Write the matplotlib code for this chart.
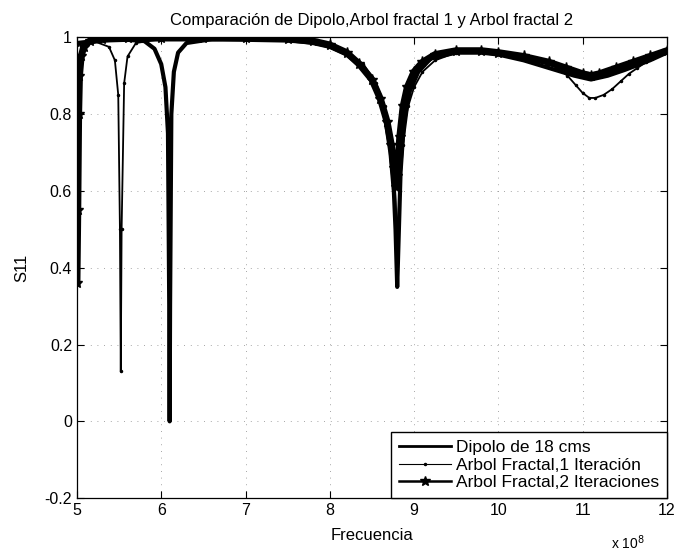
import matplotlib
matplotlib.use("Agg")
import matplotlib.pyplot as plt
from matplotlib.lines import Line2D

plt.rcParams['font.family'] = ['Liberation Sans', 'DejaVu Sans']

title = "Comparación de Dipolo,Arbol fractal 1 y Arbol fractal 2"
labels = ["Dipolo de 18 cms", "Arbol Fractal,1 Iteración", "Arbol Fractal,2 Iteraciones"]

# frequency in units of 1e8 Hz
f_dip = [5.0, 5.2, 5.5, 5.8, 5.92, 6.0, 6.05, 6.08, 6.095, 6.10, 6.105, 6.12, 6.15, 6.2, 6.3,
         6.6, 7.0, 7.5, 7.8, 8.0, 8.2, 8.4, 8.55, 8.65, 8.72, 8.76, 8.78, 8.80, 8.82, 8.84,
         8.88, 8.95, 9.05, 9.2, 9.5, 9.8, 10.0, 10.3, 10.6, 10.9, 11.1, 11.3, 11.5, 11.8, 12.0]
s_dip = [0.985, 0.99, 0.995, 0.99, 0.97, 0.93, 0.87, 0.75, 0.30, 0.0, 0.30, 0.80, 0.91, 0.96, 0.985,
         0.995, 0.997, 0.993, 0.985, 0.975, 0.955, 0.92, 0.87, 0.80, 0.70, 0.60, 0.50, 0.35, 0.50, 0.65,
         0.78, 0.86, 0.91, 0.945, 0.96, 0.96, 0.955, 0.94, 0.92, 0.90, 0.89, 0.90, 0.915, 0.94, 0.96]

f_a1 = [5.0, 5.2, 5.38, 5.45, 5.49, 5.51, 5.52, 5.53, 5.56, 5.6, 5.7, 6.0, 6.5, 7.0, 7.5, 7.8,
        8.0, 8.2, 8.4, 8.55, 8.65, 8.72, 8.77, 8.80, 8.83, 8.87, 8.93, 9.0, 9.1, 9.25, 9.5,
        9.8, 10.0, 10.3, 10.55, 10.7, 10.82, 10.92, 11.0, 11.08, 11.15, 11.25, 11.35, 11.45,
        11.55, 11.65, 11.75, 12.0]
s_a1 = [0.98, 0.99, 0.975, 0.94, 0.85, 0.50, 0.13, 0.50, 0.88, 0.95, 0.985, 0.995, 0.997, 0.996, 0.993, 0.987,
        0.978, 0.96, 0.93, 0.88, 0.82, 0.74, 0.63, 0.48, 0.60, 0.72, 0.82, 0.87, 0.91, 0.94, 0.96,
        0.965, 0.96, 0.95, 0.935, 0.92, 0.90, 0.875, 0.855, 0.842, 0.842, 0.85, 0.865, 0.885,
        0.905, 0.92, 0.935, 0.965]

f_a2 = [5.0, 5.01, 5.02, 5.03, 5.05, 5.08, 5.15, 5.3, 5.6, 6.0, 6.5, 7.0, 7.5, 7.8, 8.0, 8.2,
        8.35, 8.5, 8.6, 8.68, 8.73, 8.76, 8.78, 8.80, 8.83, 8.87, 8.92, 9.0, 9.1, 9.25, 9.5,
        9.8, 10.0, 10.3, 10.6, 10.8, 11.0, 11.1, 11.2, 11.4, 11.6, 11.8, 12.0]
s_a2 = [0.36, 0.55, 0.80, 0.90, 0.95, 0.975, 0.99, 0.995, 0.997, 0.998, 0.998, 0.997, 0.995, 0.99, 0.98, 0.96,
        0.93, 0.89, 0.84, 0.78, 0.72, 0.66, 0.61, 0.64, 0.74, 0.82, 0.87, 0.91, 0.935, 0.955, 0.965,
        0.965, 0.96, 0.95, 0.935, 0.92, 0.905, 0.90, 0.905, 0.92, 0.935, 0.95, 0.965]

xticks = [5, 6, 7, 8, 9, 10, 11, 12]
yticks = [-0.2, 0, 0.2, 0.4, 0.6, 0.8, 1]
yticklabels = ["-0.2", "0", "0.2", "0.4", "0.6", "0.8", "1"]

fig = plt.figure(figsize=(6.75, 5.56), dpi=100)
ax = fig.add_axes([0.114, 0.104, 0.874, 0.829])

ax.plot(f_a2, s_a2, color='black', lw=5, marker='*', ms=8, zorder=3)
ax.plot(f_dip, s_dip, color='black', lw=3, zorder=4)
ax.plot(f_a1, s_a1, color='black', lw=1.3, marker='.', ms=3, zorder=5)

ax.set_xlim(5, 12)
ax.set_ylim(-0.2, 1)
ax.set_xticks(xticks)
ax.set_xticklabels([str(x) for x in xticks])
ax.set_yticks(yticks)
ax.set_yticklabels(yticklabels)
ax.tick_params(direction='in', top=True, right=True, labelsize=11.5, length=5, width=0.8)
ax.grid(True, linestyle=(0, (1, 7)), color='#888888', lw=0.6)
for sp in ax.spines.values():
    sp.set_linewidth(0.9)

ax.set_title(title, fontsize=12, pad=9)
ax.set_xlabel("Frecuencia", fontsize=12, labelpad=7)
ax.set_ylabel("S11", fontsize=12, labelpad=11)
fig.text(0.905, 0.012, r"x 10$^{8}$", fontsize=10)

handles = [Line2D([], [], color='black', lw=2),
           Line2D([], [], color='black', lw=0.8, marker='.', ms=3),
           Line2D([], [], color='black', lw=1.8, marker='*', ms=7)]
leg = ax.legend(handles, labels, loc='lower right', borderaxespad=0, fancybox=False,
                edgecolor='black', fontsize=12.5, handlelength=3.0, handletextpad=0.3,
                labelspacing=0.15, borderpad=0.45, framealpha=1)
leg.get_frame().set_linewidth(1.0)

fig.savefig("out.png", dpi=100)
